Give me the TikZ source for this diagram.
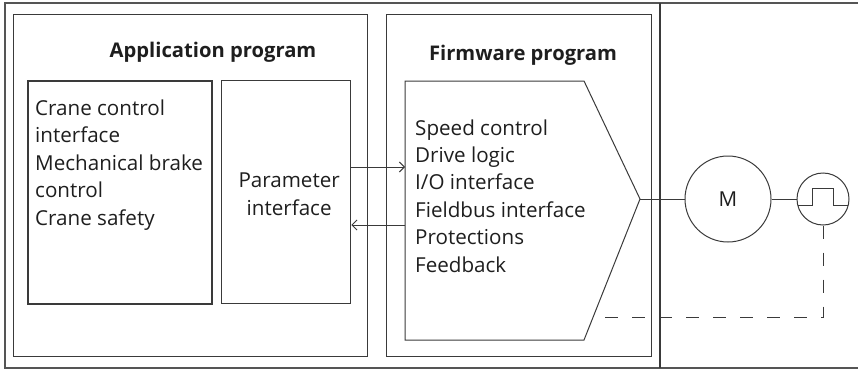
\documentclass[tikz,border=0pt]{standalone}
\usepackage{fontspec}
\setmainfont{Open Sans}
\usetikzlibrary{arrows.meta,positioning}
\definecolor{dgInk}{HTML}{1E1E1E}
\definecolor{dgLine}{HTML}{3A3A3A}
\definecolor{dgFrame}{HTML}{555555}
\tikzset{
  dg diagram/.style={font=\fontsize{20.6}{27.4}\selectfont, text=dgInk,
    line join=miter},
  dg box/.style={draw=dgLine, line width=1.3pt, inner sep=0pt,
    anchor=north west},
  dg title/.style={font=\fontsize{20.2}{24}\selectfont\bfseries, anchor=base},
  dg text/.style={anchor=base west, inner sep=0pt},
  dg link/.style={-{Straight Barb[length=5pt,width=10pt]}, draw=dgLine,
    line width=1pt},
  dg wire/.style={draw=dgLine, line width=1pt},
  dg feedback/.style={dg wire, dash pattern=on 13pt off 14pt}
}
\begin{document}
\begin{tikzpicture}[dg diagram,x=1pt,y=-1pt]
\useasboundingbox (0,0) rectangle (858,369);
% frame and divider
\draw[draw=dgFrame, line width=1.3pt] (858,3) -- (5,3) -- (5,368) -- (858,368);
\coordinate (div-top) at (660,3);
\coordinate (div-bot) at (660,368);
\draw[dg wire, line width=1.2pt] (div-top) -- (div-bot);
% application program
\node[dg box, minimum width=354, minimum height=342] (app) at (13,14) {};
\node[dg title] (app-title) at (213,57) {Application program};
\node[dg box, line width=2pt, minimum width=184, minimum height=223] (crane) at (27,80) {};
\foreach \txt [count=\i] in {Crane control,interface,Mechanical brake,control,Crane safety}
  \node[dg text] (crane-\i) at (35,{115+27.5*(\i-1)}) {\txt};
\node[dg box, minimum width=129, minimum height=223] (param) at (221,80) {};
\node[align=center, inner sep=0pt] (param-txt) at ([xshift=3pt,yshift=-2pt]param.center) {Parameter\\interface};
% firmware program
\node[dg box, minimum width=265, minimum height=342] (fw) at (386,14) {};
\node[dg title] (fw-title) at (523,60) {Firmware program};
\coordinate (fw-nw) at (405,81);
\coordinate (fw-ne) at (584,81);
\coordinate (fw-tip) at (640,199);
\coordinate (fw-se) at (584,340);
\coordinate (fw-sw) at (405,340);
\draw[dg wire] (fw-nw) -- (fw-ne) -- (fw-tip) -- (fw-se) -- (fw-sw) -- cycle;
\foreach \txt [count=\i] in {Speed control,Drive logic,I/O interface,Fieldbus interface,Protections,Feedback}
  \node[dg text] (fw-\i) at (415,{135+27.4*(\i-1)}) {\txt};
\coordinate (fw-in) at (405,167);
\coordinate (fw-out) at (405,225);
\draw[dg link] (param.east |- fw-in) -- (fw-in);
\draw[dg link] (fw-out) -- (param.east |- fw-out);
% motor and encoder
\node[circle, dg wire, minimum size=86, inner sep=0pt] (motor) at (728,199) {M};
\node[circle, dg wire, minimum size=52, inner sep=0pt] (enc) at (823,199) {};
\draw[dg wire] (fw-tip) -- (motor);
\draw[dg wire] (motor) -- (enc);
\draw[dg wire] ([shift={(-25.3,6)}]enc.center) -- ++(14.3,0) -- ++(0,-17)
  -- ++(21,0) -- ++(0,17) -- ++(15.3,0);
\coordinate (fb-end) at (593,317);
\draw[dg feedback] (enc.south) -- (enc.south |- fb-end) -- (fb-end);
\end{tikzpicture}
\end{document}
